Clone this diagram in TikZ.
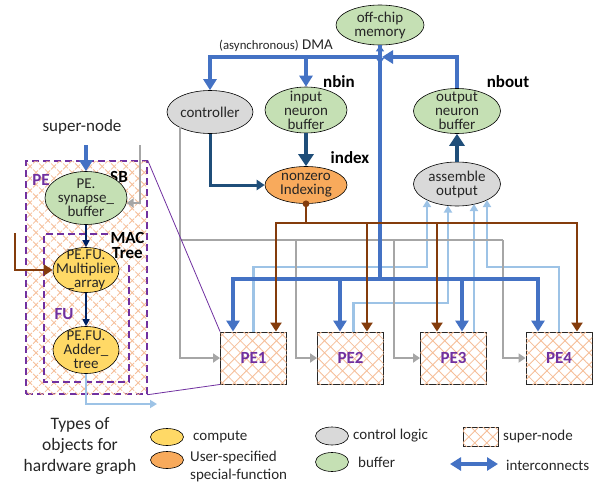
\documentclass[tikz,border=0pt]{standalone}
\usepackage{fontspec}
\setmainfont{Carlito}
\usetikzlibrary{arrows.meta,patterns.meta,shapes.geometric}

\definecolor{bufgreen}{HTML}{C5E0B4}
\definecolor{ctlgray}{HTML}{D9D9D9}
\definecolor{cmpyellow}{HTML}{FFD966}
\definecolor{spforange}{HTML}{F8AA5C}
\definecolor{busblue}{HTML}{4472C4}
\definecolor{darkblue}{HTML}{1F4E79}
\definecolor{navy}{HTML}{002060}
\definecolor{idxbrown}{HTML}{843C0C}
\definecolor{ctlline}{HTML}{A6A6A6}
\definecolor{resblue}{HTML}{9DC3E6}
\definecolor{pepurple}{HTML}{7030A0}
\definecolor{hatchorange}{HTML}{F6BE98}
\definecolor{txt}{HTML}{262626}

\newcommand\ftxt{\fontsize{15}{14}\selectfont}
\newcommand\fbold{\fontsize{17}{15}\selectfont\bfseries}

\begin{document}
\begin{tikzpicture}[x=1pt,y=-1pt,
  font=\ftxt, text=txt,
  ell/.style={ellipse, draw=black, line width=0.6pt, inner sep=0pt},
  etext/.style={label={[align=center,font=\ftxt,text=txt,inner sep=0pt]center:#1}},
  buf/.style={ell, fill=bufgreen},
  ctl/.style={ell, fill=ctlgray},
  cmp/.style={ell, fill=cmpyellow},
  spf/.style={ell, fill=spforange},
  hatched/.style={fill=white,
    postaction={pattern={Lines[angle=45,distance=8.5pt,line width=0.8pt]},pattern color=hatchorange},
    postaction={pattern={Lines[angle=-45,distance=8.5pt,line width=0.8pt]},pattern color=hatchorange}},
  pebox/.style={rectangle, draw=black!85, line width=0.9pt, hatched, minimum width=66pt,
    minimum height=52pt, inner sep=0pt, font=\fbold, text=pepurple},
  bl/.style={font=\fbold, inner sep=0pt, text=black, align=center},
  pelabel/.style={font=\fbold, inner sep=0pt, text=pepurple},
  pedash/.style={draw=pepurple, line width=1.4pt, dash pattern=on 7pt off 4pt},
  lgtext/.style={anchor=west, inner sep=0pt, align=left},
  bigtip/.tip={Triangle[width=13pt,length=11pt]},
  dktip/.tip={Triangle[width=15pt,length=12pt]},
  midtip/.tip={Triangle[width=10pt,length=8pt]},
  browntip/.tip={Triangle[width=11pt,length=9pt]},
  graytip/.tip={Triangle[width=9pt,length=7pt]},
  restip/.tip={Triangle[width=8pt,length=7pt]},
  navytip/.tip={Triangle[width=7pt,length=7pt]},
  bus/.style={draw=busblue, line width=4.3pt},
  ctlw/.style={draw=ctlline, line width=2.5pt},
  idxw/.style={draw=idxbrown, line width=2.9pt},
  resw/.style={draw=resblue, line width=2.6pt},
  dkw/.style={draw=darkblue, line width=4.3pt},
  navyw/.style={draw=navy, line width=1.6pt},
  zoomline/.style={draw=pepurple, line width=0.8pt},
]
\useasboundingbox (0,0) rectangle (603,485);

% ---------- hatched super-nodes ----------
\node[hatched, pedash, minimum width=121pt, minimum height=233pt, inner sep=0pt] (pebig) at (86.5,277.5) {};
\node[pebox] (pe1) at (253.5,358) {PE1};
\node[pebox] (pe2) at (350.5,358) {PE2};
\node[pebox] (pe3) at (453.5,358) {PE3};
\node[pebox] (pe4) at (559,358) {PE4};

% ---------- accelerator nodes ----------
\node[buf, minimum width=88pt, minimum height=40pt, etext={off-chip\\memory}] (mem) at (380,25) {};
\node (dma) at (276,46) {{\fontsize{12.8}{14}\selectfont(asynchronous)}\ DMA};
\node[ctl, minimum width=86pt, minimum height=43pt, etext={controller}] (ctrl) at (210,112) {};
\node[buf, minimum width=82pt, minimum height=46pt, etext={input\\neuron\\buffer}] (inbuf) at (306,110) {};
\node[bl] (nbin) at (339,82) {nbin};
\node[spf, minimum width=82pt, minimum height=37pt, etext={nonzero\\Indexing}] (idx) at (306,185) {};
\node[bl] (index) at (350,158) {index};
\node[buf, minimum width=87pt, minimum height=45pt, etext={output\\neuron\\buffer}] (outbuf) at (457,111) {};
\node[bl] (nbout) at (508,82) {nbout};
\node[ctl, minimum width=87pt, minimum height=44pt, etext={assemble\\output}] (asm) at (457,184) {};

% ---------- PE detail ----------
\draw[pedash] (108,234) -- (44,234) -- (44,382) -- (129,382) -- (129,262);
\node[pelabel] (pel) at (41,180) {PE};
\node[bl] (sbl) at (119,177) {SB};
\node[bl] (macl) at (127.5,245) {MAC\\Tree};
\node[pelabel] (ful) at (64,314) {FU};
\node[buf, minimum width=82pt, minimum height=53pt, etext={PE.\\synapse\_\\buffer}] (syn) at (86,198) {};
\node[cmp, minimum width=66pt, minimum height=45pt, etext={PE.FU.\\Multiplier\\\_array}] (mul) at (86,270) {};
\node[cmp, minimum width=66pt, minimum height=47pt, etext={PE.FU.\\Adder\_\\tree}] (add) at (86,350) {};
\node[font=\fontsize{17}{17}\selectfont] (sn) at (82,127) {super-node};
\node[align=center, font=\fontsize{17.5}{21}\selectfont] (types) at (80,446) {Types of\\objects for\\hardware graph};

% ---------- connector end points ----------
\coordinate (jn) at (380,57);
\coordinate (hub) at (380,279);
\coordinate (c0) at (180,127);
\coordinate (g0) at (180,240);
\coordinate (g2) at (296,240);
\coordinate (g3) at (394,240);
\coordinate (g4) at (503,240);
\coordinate (bj) at (306,223);
\coordinate (asmA) at (427,200);
\coordinate (asmB) at (448,205.5);
\coordinate (asmC) at (474,204);
\coordinate (asmD) at (487,200);
\coordinate (snin) at (86,145);
\coordinate (gin) at (140,145);
\coordinate (bin) at (15,233);
\coordinate (rout) at (157,404);

% results to the assembler
\draw[resw,-restip] (pe1.north) |- (427,267) -- (asmA);
\draw[resw,-restip] ([xshift=3pt]pe2.north) |- (448,303) -- (asmB);
\draw[resw,-restip] ([xshift=20.5pt]pe3.north) -- (asmC);
\draw[resw,-restip] (pe4.north) |- (487,267) -- (asmD);

% control lines
\draw[ctlw,-graytip] (c0) |- (pe1.west);
\draw[ctlw] (g0) -- (g4);
\draw[ctlw,-graytip] (g2) |- (pe2.west);
\draw[ctlw,-graytip] (g3) |- (pe3.west);
\draw[ctlw,-graytip] (g4) |- (pe4.west);

% DMA and interconnect
\draw[bus] (mem.south) -- (hub);
\draw[bus,-bigtip] (jn) -| (ctrl.north);
\draw[bus,-bigtip] (inbuf.north |- jn) -- (inbuf.north);
\draw[bus,-bigtip] (outbuf.north) |- ([xshift=2pt]jn);
\draw[draw=busblue, line width=2pt, {Triangle[width=8pt,length=6pt]}-{Triangle[width=8pt,length=6pt]}] (mem.south) -- (380,64);
\draw[bus,-bigtip] (hub) -| ([xshift=-20.5pt]pe1.north);
\draw[bus,-bigtip] (hub) -| ([xshift=-10.5pt]pe2.north);
\draw[bus,-bigtip] (hub) -| ([xshift=8.5pt]pe3.north);
\draw[bus,-bigtip] (hub) -| ([xshift=-21pt]pe4.north);

% index distribution
\draw[idxw] (idx.south) -- (bj);
\fill[idxbrown] (idx.south) circle (3.4);
\draw[idxw,-browntip] (bj) -| ([xshift=22.5pt]pe1.north);
\draw[idxw,-browntip] (bj) -| ([xshift=16.5pt]pe2.north);
\draw[idxw,-browntip] (bj) -| ([xshift=-16.5pt]pe3.north);
\draw[idxw,-browntip] (bj) -| ([xshift=18pt]pe4.north);

% buffer paths
\draw[dkw,-dktip] (inbuf.south) -- (idx.north);
\draw[dkw,-dktip] (asm.north) -- (outbuf.south);
\draw[dkw, line width=3pt,-midtip] (ctrl.south) |- (idx.west);

% inside the PE
\draw[bus,-bigtip] (snin) -- (syn.north);
\draw[ctlw,-graytip] (gin) |- (syn.-7);
\draw[navyw,-navytip] (syn.south) -- (mul.north);
\draw[navyw,-navytip] (mul.south) -- (add.north);
\draw[idxw,-browntip] (bin) |- (mul.west);
\draw[resw,-restip] (add.south) |- (rout);
\draw[zoomline] (pebig.north east) -- (pe1.north west);
\draw[zoomline] (pebig.south east) -- (pe1.south west);

% ---------- legend ----------
\node[cmp, minimum width=33pt, minimum height=17pt] (lgc) at (167,437) {};
\node[lgtext] (lgct) at (193,437) {compute};
\node[spf, minimum width=33pt, minimum height=17pt] (lgs) at (167,460) {};
\node[lgtext, font=\fontsize{15}{18}\selectfont] (lgst) at (190,466) {User-specified\\special-function};
\node[ctl, minimum width=33pt, minimum height=18pt] (lgk) at (332,436) {};
\node[lgtext] (lgkt) at (353,436) {control logic};
\node[buf, minimum width=33pt, minimum height=19pt] (lgb) at (332,462) {};
\node[lgtext] (lgbt) at (358,462) {buffer};
\node[rectangle, draw=black!85, line width=0.9pt, hatched, minimum width=35pt, minimum height=19pt, inner sep=0pt] (lgn) at (480.5,436.5) {};
\node[lgtext] (lgnt) at (503,436) {super-node};
\coordinate (la) at (450,464);
\coordinate (lb) at (498,464);
\draw[bus,bigtip-bigtip] (la) -- (lb);
\node[lgtext] (lgit) at (506,465) {interconnects};
\end{tikzpicture}
\end{document}
